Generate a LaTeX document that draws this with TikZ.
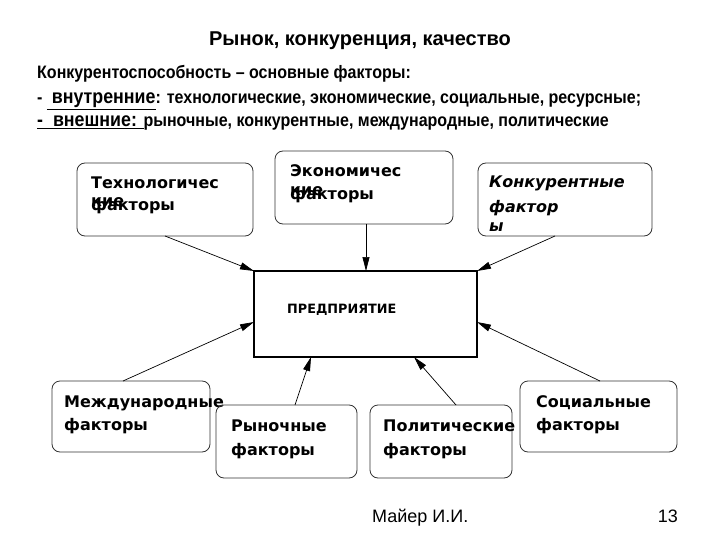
\documentclass[tikz,border=0pt]{standalone}
\usepackage{fontspec}
\setmainfont{Liberation Sans}
\newfontfamily\boxfont{DejaVu Sans}
\newfontfamily\narrowfont{Liberation Sans}[FakeStretch=0.89]
\usetikzlibrary{arrows.meta}
\tikzset{
  fbox/.style={draw=black!80, line width=0.8pt, rounded corners=8pt},
  cbox/.style={draw=black, line width=1.5pt},
  arr/.style={line width=0.7pt, -{Triangle[length=14pt,width=7pt]}},
  lbl/.style={anchor=base west, inner sep=0pt, font=\boxfont\bfseries\fontsize{16}{16}\selectfont},
  hdr/.style={anchor=base west, inner sep=0pt},
}
\begin{document}
\begin{tikzpicture}[x=1pt,y=-1pt]
\useasboundingbox (0,0) rectangle (720,540);
% title
\node[inner sep=0pt, anchor=base] (title) at (360,46) {\bfseries\fontsize{20}{20}\selectfont Рынок, конкуренция, качество};
% header lines
\node[hdr] (h1) at (37,79) {\narrowfont\bfseries\fontsize{18}{18}\selectfont Конкурентоспособность – основные факторы:};
\node[hdr] (h2) at (37,104) {\narrowfont\bfseries\fontsize{18}{18}\selectfont - \underline{\fontsize{20}{20}\selectfont\ внутренние}: технологические, экономические, социальные, ресурсные;};
\node[hdr] (h3) at (37,127) {\narrowfont\bfseries\fontsize{18}{18}\selectfont \underline{{\fontsize{20}{20}\selectfont -\ \ внешние: }}рыночные, конкурентные, международные, политические};
% boxes
\draw[fbox] (77,163) rectangle (253,236);
\coordinate (tech) at (165,236);
\node[lbl] (t1) at (91,189) {Технологичес};
\node[lbl] (t2) at (91,207) {кие};
\node[lbl] (t3) at (91,211) {факторы};

\draw[fbox] (275,151) rectangle (453,224);
\coordinate (econ) at (366,224);
\node[lbl] (e1) at (290,177) {Экономичес};
\node[lbl] (e2) at (290,196) {кие};
\node[lbl] (e3) at (290,200) {факторы};

\draw[fbox] (478,163) rectangle (652,236);
\coordinate (konk) at (555,236);
\node[lbl] (k1) at (489,188) {\itshape Конкурентные};
\node[lbl] (k2) at (489,212) {\itshape фактор};
\node[lbl] (k3) at (489,232) {\itshape ы};

\draw[fbox] (52,381) rectangle (210,452);
\coordinate (intl) at (123,381);
\node[lbl] (i1) at (64,407) {Международные};
\node[lbl] (i2) at (64,430) {факторы};

\draw[fbox] (216,405) rectangle (357,478);
\coordinate (mkt) at (295,405);
\node[lbl] (m1) at (231,431) {Рыночные};
\node[lbl] (m2) at (231,455) {факторы};

\draw[fbox] (370,405) rectangle (512,478);
\coordinate (pol) at (456,405);
\node[lbl] (p1) at (383,431) {Политические};
\node[lbl] (p2) at (383,455) {факторы};

\draw[fbox] (520,381) rectangle (677,452);
\coordinate (soc) at (600,381);
\node[lbl] (s1) at (536,407) {Социальные};
\node[lbl] (s2) at (536,430) {факторы};

% center
\draw[cbox] (254,271) rectangle (477,357);
\node[anchor=base west, inner sep=0pt, font=\boxfont\bfseries\fontsize{12.8}{13}\selectfont] (ent) at (287,313) {ПРЕДПРИЯТИЕ};
\coordinate (cTL) at (254,271);
\coordinate (cT) at (366,271);
\coordinate (cTR) at (477,271);
\coordinate (cL) at (254,322);
\coordinate (cR) at (477,322);
\coordinate (cB1) at (311,357);
\coordinate (cB2) at (414,357);
% arrows
\draw[arr] (tech) -- (cTL);
\draw[arr] (econ) -- (cT);
\draw[arr] (konk) -- (cTR);
\draw[arr] (intl) -- (cL);
\draw[arr] (mkt) -- (cB1);
\draw[arr] (pol) -- (cB2);
\draw[arr] (soc) -- (cR);
% footer
\node[anchor=base west, inner sep=0pt, font=\fontsize{18}{18}\selectfont] (auth) at (372,522) {Майер И.И.};
\node[anchor=base east, inner sep=0pt, font=\fontsize{18}{18}\selectfont] (pg) at (678,522) {13};
\end{tikzpicture}
\end{document}
